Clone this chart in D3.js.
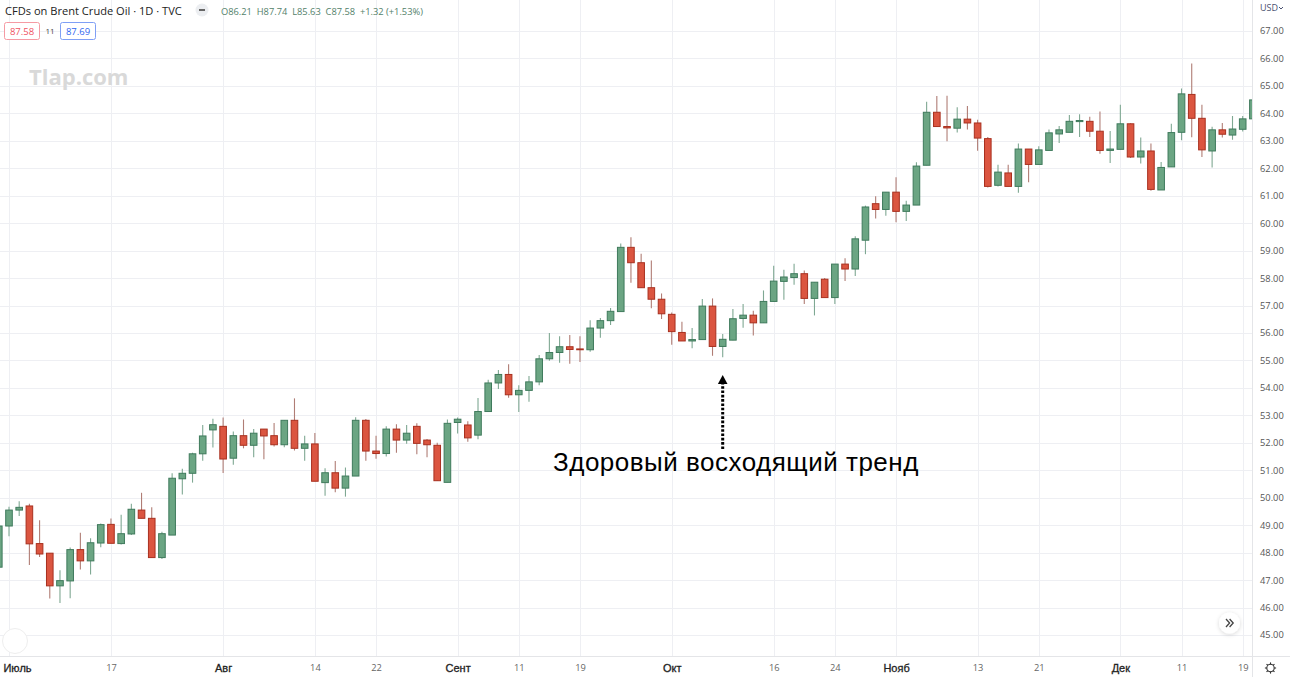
<!DOCTYPE html>
<html lang="ru">
<head>
<meta charset="utf-8">
<title>CFDs on Brent Crude Oil</title>
<script src="https://cdn.jsdelivr.net/npm/d3@7"></script>
<style>
  html, body { margin: 0; padding: 0; background: #fff; overflow: hidden; }
  svg { display: block; }
</style>
</head>
<body>
<svg id="chart" width="1290" height="677"></svg>
<script>
// Daily sessions, oldest first. The first session sits just off the left edge.
const opens = [47.47,48.97,49.55,49.7,48.33,47.98,46.79,46.97,48.11,47.7,48.35,49.03,48.33,48.68,49.55,49.25,47.82,48.64,50.69,50.89,51.6,52.47,
  52.6,51.44,52.26,51.91,52.5,52.26,51.93,52.82,51.8,51.96,50.55,50.91,50.35,50.79,52.82,51.7,51.61,52.5,52.1,52.6,52.1,51.91,50.56,52.74,
  52.65,52.28,53.14,54.18,54.49,53.75,53.91,54.22,55.06,55.29,55.5,55.42,55.39,56.18,56.45,56.78,59.12,58.56,57.65,57.23,56.68,56.02,55.71,55.76,56.98,55.51,
  55.74,56.53,56.65,56.37,57.15,57.88,58.02,58.16,57.26,57.96,57.29,58.51,58.33,59.38,60.71,60.5,61.13,60.43,
  60.66,62.11,64.04,63.52,63.46,63.79,63.65,63.08,61.38,61.83,61.34,62.7,62.14,62.65,63.25,63.31,63.7,63.71,63.35,
  62.65,62.69,63.62,62.41,62.63,61.21,62.05,63.31,64.69,63.82,62.63,63.4,63.21,63.42,63.8];
const highs = [49.0,49.67,49.87,49.78,49.18,47.98,47.36,48.19,48.72,48.52,49.06,49.24,49.38,49.78,50.18,49.65,48.76,50.89,51.06,51.64,52.65,52.88,
  52.92,52.41,52.85,52.5,52.5,52.72,52.82,53.62,52.26,52.36,51.07,51.34,51.1,52.93,52.87,52.26,52.6,52.68,52.65,52.71,52.14,52.0,52.85,52.92,
  52.79,53.63,54.3,54.65,54.86,54.1,54.43,55.2,56.0,55.88,55.93,55.88,56.46,56.55,56.91,59.26,59.49,58.89,58.64,57.44,56.75,56.41,56.18,57.24,57.26,55.96,
  56.87,57.06,56.81,57.55,58.45,58.3,58.52,58.28,57.85,58.0,58.51,58.72,59.52,60.64,60.98,61.13,61.67,60.82,
  62.22,64.42,64.63,64.64,64.22,64.27,63.77,63.14,62.13,62.13,62.9,62.7,62.8,63.41,63.54,63.94,63.97,63.88,64.07,
  63.36,64.31,63.64,63.12,62.9,62.23,63.62,64.91,65.82,64.31,63.51,63.65,63.9,63.9,64.49];
const lows = [47.4,48.6,49.33,47.55,47.84,46.33,46.17,46.34,47.39,47.2,48.2,48.34,48.3,48.64,49.25,47.82,47.77,48.64,50.12,50.55,51.35,51.83,
  50.9,51.2,51.8,51.47,51.4,51.87,51.84,51.72,51.35,50.6,50.07,50.2,50.04,50.79,51.35,51.42,51.5,51.64,51.97,51.58,51.47,50.62,50.56,52.34,
  52.04,52.13,53.14,53.96,53.64,53.12,53.5,54.1,54.99,54.92,54.88,54.94,55.32,55.83,56.29,56.78,57.83,57.65,56.9,56.51,55.57,55.71,55.44,55.76,55.17,55.12,
  55.74,56.19,55.91,56.37,57.15,57.21,57.76,57.06,56.64,57.29,57.06,57.89,58.08,58.87,60.17,60.27,60.03,60.08,
  60.66,62.11,63.52,62.98,63.3,63.41,62.64,61.3,61.34,61.34,61.11,61.49,62.14,62.65,62.92,63.31,63.14,63.14,62.53,
  62.19,62.69,62.37,62.17,61.18,61.21,62.05,63.02,63.13,62.41,62.03,63.12,63.04,63.34,63.8];
const closes = [48.97,49.55,49.65,48.32,47.95,46.79,46.98,48.11,47.7,48.36,49.02,48.34,48.69,49.58,49.25,47.82,48.69,50.71,50.89,51.6,52.25,52.66,
  51.41,52.26,51.91,52.35,52.25,51.93,52.82,51.8,51.96,50.6,50.91,50.35,50.79,52.82,51.7,51.61,52.5,52.1,52.35,51.98,51.93,50.62,52.71,52.86,
  52.18,53.14,54.18,54.49,53.75,53.91,54.22,55.06,55.29,55.5,55.4,55.39,56.18,56.45,56.79,59.12,58.56,57.65,57.23,56.7,56.05,55.71,55.76,56.98,55.51,55.77,
  56.52,56.65,56.37,57.15,57.89,58.04,58.16,57.26,57.85,57.29,58.51,58.33,59.43,60.59,60.5,61.13,60.43,60.66,
  62.08,64.04,63.52,63.47,63.79,63.65,63.1,61.34,61.86,61.34,62.7,62.14,62.67,63.29,63.4,63.71,63.74,63.35,62.65,
  62.7,63.62,62.41,62.63,61.23,62.03,63.3,64.71,63.82,62.67,63.4,63.24,63.43,63.8,64.49];

// Price ticks and the sessions that carry a date label.
const priceTicks = d3.range(45, 68);
const dateTickSessions = [1,11,22,31,37,45,51,57,66,76,82,88,96,102,110,116,122];
const dateTickLabels = ["Июль","17","Авг","14","22","Сент","11","19","Окт","16","24","Нояб","13","21","Дек","11","19"];
const monthLabels = ["Июль","Авг","Сент","Окт","Нояб","Дек"];

const titleText = "CFDs on Brent Crude Oil · 1D · TVC";
const ohlcText = "O86.21  H87.74  L85.63  C87.58  +1.32 (+1.53%)";
const sellText = "87.58", buyText = "87.69", spreadText = "11";
const brandText = "Tlap.com";
const noteText = "Здоровый восходящий тренд";

const plotRight = 1252.5, plotBottom = 656.5, width = 1290, height = 677;
const uiFont = "'Open Sans', 'Noto Sans', sans-serif";
const axisFont = "'Liberation Sans', Arial, sans-serif";

const svg = d3.select("#chart");
const x = d3.scaleLinear().domain([0, 123]).range([-1.2, 1252.9]);
const y = d3.scaleLinear().domain([45, 67]).range([635, 31]);

const candles = opens.map((o, i) => ({ i, o, h: highs[i], l: lows[i], c: closes[i], up: closes[i] >= o }));
const isMonth = d => monthLabels.includes(dateTickLabels[dateTickSessions.indexOf(d)]);

svg.append("defs").append("clipPath").attr("id", "plot")
  .append("rect").attr("x", 0).attr("y", 0).attr("width", plotRight).attr("height", plotBottom);

// Grid
const grid = svg.append("g").attr("stroke", "#eeeff3").attr("stroke-width", 1);
grid.selectAll("line.h").data(priceTicks).join("line").attr("class", "h")
  .attr("x1", 0).attr("x2", plotRight)
  .attr("y1", d => Math.round(y(d)) + 0.5).attr("y2", d => Math.round(y(d)) + 0.5);
grid.selectAll("line.v").data(dateTickSessions).join("line").attr("class", "v")
  .attr("y1", 0).attr("y2", plotBottom)
  .attr("x1", d => Math.round(x(d)) + 0.5).attr("x2", d => Math.round(x(d)) + 0.5);

// Watermark-style brand and the round corner badge
svg.append("text").attr("x", 29).attr("y", 85).text(brandText)
  .attr("font-family", uiFont).attr("font-weight", 700).attr("font-size", 22)
  .attr("letter-spacing", 0).attr("fill", "#d9d9d9");
svg.append("circle").attr("cx", 15).attr("cy", 641).attr("r", 12.5)
  .attr("fill", "#fff").attr("stroke", "#eeeeee").attr("stroke-width", 1);

// Candlesticks
const plot = svg.append("g").attr("clip-path", "url(#plot)");
const bodyW = 6.6;
plot.selectAll("line.wick").data(candles).join("line").attr("class", "wick")
  .attr("x1", d => x(d.i)).attr("x2", d => x(d.i))
  .attr("y1", d => y(d.h)).attr("y2", d => y(d.l))
  .attr("stroke", d => d.up ? "#7fa893" : "#b07d75").attr("stroke-width", 1.1);
plot.selectAll("rect.body").data(candles).join("rect").attr("class", "body")
  .attr("x", d => x(d.i) - bodyW / 2).attr("width", bodyW)
  .attr("y", d => y(Math.max(d.o, d.c)))
  .attr("height", d => Math.max(0.6, Math.abs(y(d.o) - y(d.c))))
  .attr("fill", d => d.up ? "#6ba583" : "#db5540")
  .attr("stroke", d => d.up ? "#3f7a5c" : "#a8301f").attr("stroke-width", 1);

// Axes frame
svg.append("line").attr("x1", plotRight).attr("x2", plotRight).attr("y1", 0).attr("y2", height)
  .attr("stroke", "#e4e5e8");
svg.append("line").attr("x1", 0).attr("x2", width).attr("y1", plotBottom).attr("y2", plotBottom)
  .attr("stroke", "#e4e5e8");

// Price axis
const priceAxis = d3.axisRight(y).tickValues(priceTicks).tickSize(0).tickPadding(0).tickFormat(d3.format(".2f"));
const gy = svg.append("g").attr("transform", `translate(1260,0)`).call(priceAxis);
gy.select(".domain").remove();
gy.selectAll("text").attr("x", 0).attr("font-family", uiFont).attr("font-size", 9.3).attr("fill", "#555");

svg.append("text").attr("x", 1260).attr("y", 11).text("USD")
  .attr("font-family", uiFont).attr("font-size", 9).attr("fill", "#4a5170");
svg.append("path").attr("d", "M1279,7 l2,2 l2,-2").attr("fill", "none").attr("stroke", "#4a5170");

// Date axis; the first label is nudged inward so it stays on the page
const dateAxis = d3.axisBottom(x).tickValues(dateTickSessions).tickSize(0).tickPadding(0)
  .tickFormat((d, i) => dateTickLabels[i]);
const gx = svg.append("g").attr("transform", `translate(0,664)`).call(dateAxis);
gx.select(".domain").remove();
gx.selectAll("text")
  .attr("y", 0).attr("dy", "0.71em")
  .attr("x", d => d === dateTickSessions[0] ? 8 : 0)
  .attr("font-family", d => isMonth(d) ? axisFont : uiFont)
  .attr("font-size", d => isMonth(d) ? 11 : 9.3)
  .attr("font-weight", 400)
  .attr("stroke", d => isMonth(d) ? "#222" : "none")
  .attr("stroke-width", 0.3)
  .attr("fill", d => isMonth(d) ? "#222" : "#666");

// Settings gear in the corner of the axes
const gear = svg.append("g").attr("transform", "translate(1270.5,668)")
  .attr("fill", "none").attr("stroke", "#333").attr("stroke-width", 1.1);
gear.append("circle").attr("r", 3.7);
gear.selectAll("line").data(d3.range(8)).join("line")
  .attr("x1", 0).attr("x2", 0).attr("y1", -3.7).attr("y2", -5.6)
  .attr("transform", d => `rotate(${d * 45})`);

// Header legend
svg.append("text").attr("x", 5).attr("y", 15).text(titleText)
  .attr("font-family", uiFont).attr("font-size", 11.1).attr("fill", "#222");
svg.append("circle").attr("cx", 202).attr("cy", 10).attr("r", 6.5).attr("fill", "#eceef1");
svg.append("rect").attr("x", 199).attr("y", 9).attr("width", 6).attr("height", 2).attr("fill", "#666");
svg.append("text").attr("x", 221).attr("y", 15).text(ohlcText)
  .style("white-space", "pre")
  .attr("font-family", uiFont).attr("font-size", 9.3).attr("fill", "#53816a");

const badge = (bx, label, colour, stroke) => {
  svg.append("rect").attr("x", bx + 0.5).attr("y", 22.5).attr("width", 35).attr("height", 17).attr("rx", 2)
    .attr("fill", "#fff").attr("stroke", stroke);
  svg.append("text").attr("x", bx + 18).attr("y", 35).attr("text-anchor", "middle").text(label)
    .attr("font-family", uiFont).attr("font-size", 9.5).attr("fill", colour);
};
badge(4, sellText, "#ef5362", "#f59aa3");
badge(60, buyText, "#2f66f0", "#7f9ff5");
svg.append("text").attr("x", 50).attr("y", 34).attr("text-anchor", "middle").text(spreadText)
  .attr("font-family", uiFont).attr("font-size", 8).attr("fill", "#444");

// Scroll-to-latest button
svg.append("defs").append("filter").attr("id", "soft").attr("x", "-50%").attr("y", "-50%")
  .attr("width", "200%").attr("height", "200%")
  .append("feDropShadow").attr("dx", 0).attr("dy", 1).attr("stdDeviation", 2)
  .attr("flood-color", "#000").attr("flood-opacity", 0.16);
svg.append("circle").attr("cx", 1229.5).attr("cy", 623).attr("r", 10.5).attr("fill", "#fff").attr("filter", "url(#soft)");
svg.append("path").attr("d", "M1226,619 l3.6,4 l-3.6,4 M1229.6,619 l3.6,4 l-3.6,4")
  .attr("fill", "none").attr("stroke", "#444").attr("stroke-width", 1.3);

// Annotation: dotted arrow pointing at the trend, with its caption
const note = svg.append("g");
note.append("line").attr("x1", 722.7).attr("x2", 722.7).attr("y1", 449).attr("y2", 383)
  .attr("stroke", "#000").attr("stroke-width", 3).attr("stroke-dasharray", "2.6 1.7");
note.append("path").attr("d", "M722.7,375 L727.5,384 L717.9,384 Z").attr("fill", "#000");
note.append("text").attr("x", 553).attr("y", 471).text(noteText)
  .attr("font-family", axisFont).attr("font-size", 26).attr("letter-spacing", 0.5).attr("fill", "#000");
</script>
</body>
</html>
